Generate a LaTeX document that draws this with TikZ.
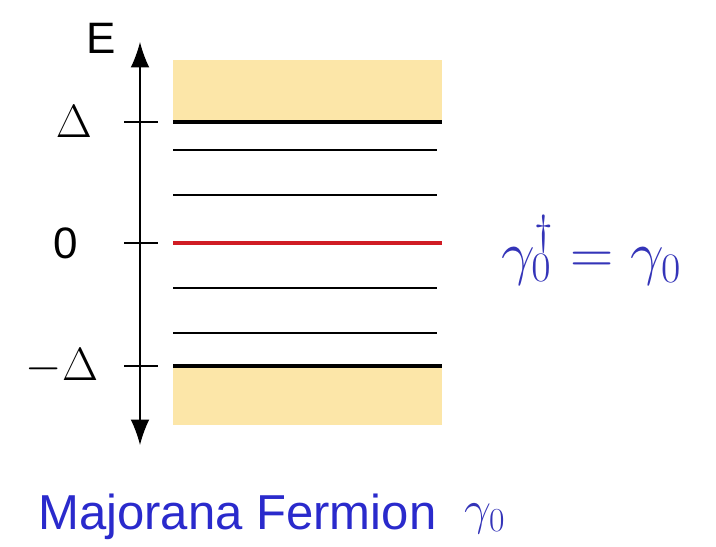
\documentclass[tikz,border=0pt]{standalone}
\usepackage{fix-cm}
\usepackage[no-math]{fontspec}
\setmainfont{Liberation Sans}
\usetikzlibrary{arrows.meta}
\definecolor{tan}{HTML}{FCE6A8}
\definecolor{lvred}{HTML}{D01C24}
\definecolor{fblue}{HTML}{3434B8}
\definecolor{mblue}{HTML}{2A2ACC}
\begin{document}
\begin{tikzpicture}[x=0.75pt,y=-0.75pt,
  level/.style={line width=2.2pt},
  edge/.style={line width=3.4pt},
  tick/.style={line width=0.8pt},
  lbl/.style={inner sep=0pt,anchor=center}]
\useasboundingbox (0,0) rectangle (716,546);
% bands
\fill[tan] (173,60) rectangle (442,122);
\fill[tan] (173,366) rectangle (442,425);
% axis
\coordinate (top) at (140,42);
\coordinate (bot) at (140,445);
\draw[line width=1pt,{Latex[length=19pt,width=14pt]}-{Latex[length=19pt,width=14pt]}] (bot) -- (top);
% ticks
\foreach \y in {122,243,366} \draw[tick] (124,\y) -- (158,\y);
% levels
\draw[edge] (173,122) -- (442,122);
\draw[level] (173,150) -- (437,150);
\draw[level] (173,195) -- (437,195);
\draw[edge,lvred,line width=2.8pt] (173,243) -- (442,243);
\draw[level] (173,288) -- (437,288);
\draw[level] (173,333) -- (437,333);
\draw[edge] (173,366) -- (442,366);
% labels
\node[lbl,font=\fontsize{33}{33}\selectfont] (E) at (101,38) {E};
\node[lbl,font=\fontsize{35}{35}\selectfont] (D) at (74,122) {$\Delta$};
\node[lbl,font=\fontsize{33}{33}\selectfont] (Z) at (66,243) {0};
\node[lbl,font=\fontsize{35}{35}\selectfont] (mD) at (62,366) {$-\Delta$};
\node[lbl,fblue,font=\fontsize{45}{45}\selectfont] (eq) at (591,250) {$\gamma_0^\dagger=\gamma_0$};
\node[lbl,mblue,anchor=west,font=\fontsize{36.8}{36.8}\selectfont] (mf) at (38,517) {Majorana Fermion};
\node[lbl,fblue,font=\fontsize{36}{36}\selectfont] (g) at (485,519) {$\gamma_0$};
\end{tikzpicture}
\end{document}
